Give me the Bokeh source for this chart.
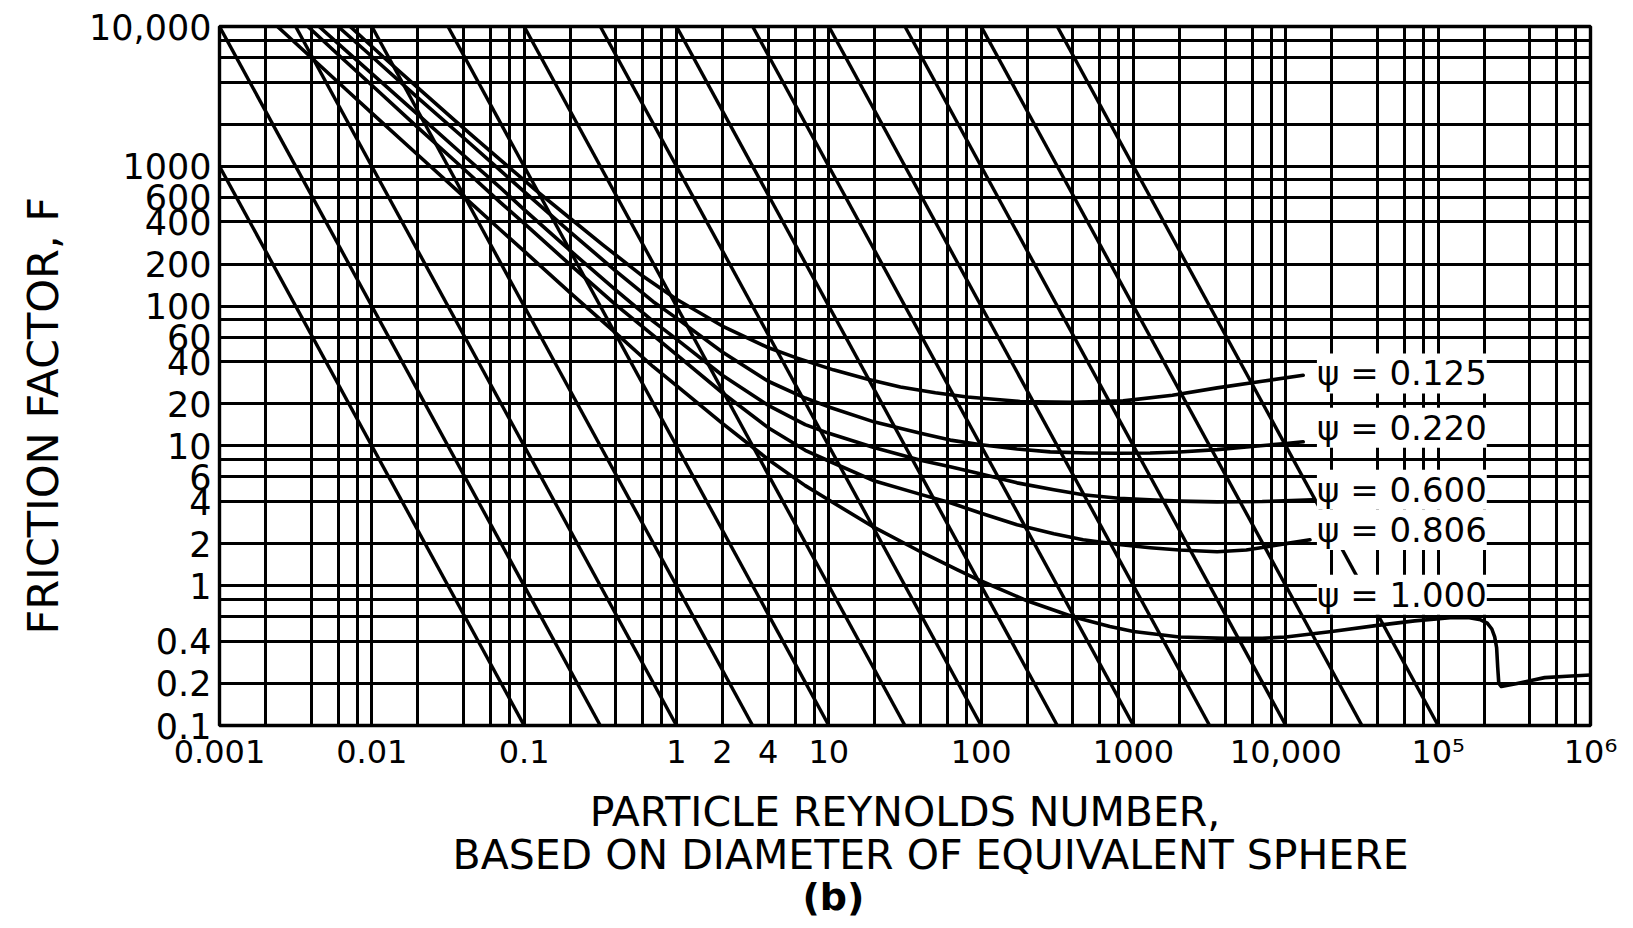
from bokeh.plotting import figure
from bokeh.models import Range1d, FixedTicker, CustomJSTickFormatter, Label, Title
from bokeh.embed import file_html
from bokeh.resources import INLINE

FONT = "DejaVu Sans"

# ---------------- tick labels ----------------
x_tick_values = [0.001, 0.01, 0.1, 1, 2, 4, 10, 100, 1000, 10000, 1e5, 1e6]
x_tick_labels = ["0.001", "0.01", "0.1", "1", "2", "4", "10", "100", "1000", "10,000", "10⁵", "10⁶"]
y_tick_values = [0.1, 0.2, 0.4, 1, 2, 4, 6, 10, 20, 40, 60, 100, 200, 400, 600, 1000, 10000]
y_tick_labels = ["0.1", "0.2", "0.4", "1", "2", "4", "6", "10", "20", "40", "60", "100", "200",
                 "400", "600", "1000", "10,000"]

# grid of the log paper: 1, 2, 4, 6, 8 in every decade
grid_mantissas = [1, 2, 4, 6, 8]
x_grid_decades = [-3, -2, -1, 0, 1, 2, 3, 4, 5]
y_grid_decades = [-1, 0, 1, 2, 3]

# ---------------- diagonal lines (constant F*Re^2) ----------------
diag_top_re = [0.001, 0.001, 0.00316, 0.01, 0.0316, 0.1, 0.316, 1, 3.16, 10, 31.6, 100, 316]
diag_top_f = [1000, 10000, 10000, 10000, 10000, 10000, 10000, 10000, 10000, 10000, 10000, 10000, 10000]
diag_bot_re = [0.1, 0.316, 1, 3.16, 10, 31.6, 100, 316, 1000, 3160, 10000, 31600, 100000]
diag_bot_f = [0.1, 0.1, 0.1, 0.1, 0.1, 0.1, 0.1, 0.1, 0.1, 0.1, 0.1, 0.1, 0.1]

# ---------------- sphericity curves ----------------
re_psi_0125 = [0.0072, 0.012, 0.02, 0.035, 0.05, 0.08, 0.12, 0.2, 0.33, 0.6, 1, 2, 3.9, 6, 10.7,
               18, 29.5, 50, 81, 180, 400, 855, 1800, 3540, 7000, 13000]
f_psi_0125 = [10000, 6000, 3650, 2130, 1520, 980, 670, 425, 273, 164, 112, 72, 51, 43, 35,
              30, 26.4, 24, 22.4, 20.8, 20.5, 21, 23, 26, 29, 32]

re_psi_0220 = [0.006, 0.01, 0.02, 0.04, 0.07, 0.1, 0.2, 0.4, 0.7, 1, 2, 4, 7, 10, 20, 40, 62.7,
               100, 172, 284, 500, 800, 1285, 2000, 3540, 6000, 10000, 13000]
f_psi_0220 = [10000, 6100, 3100, 1600, 930, 660, 340, 178, 108, 82, 47, 29, 22, 19, 14.8, 12.3,
              11.0, 10.2, 9.5, 9.06, 8.9, 8.85, 8.9, 9.05, 9.4, 9.9, 10.4, 10.7]

re_psi_0600 = [0.0045, 0.007, 0.01, 0.02, 0.04, 0.07, 0.1, 0.2, 0.4, 0.7, 1, 2, 4, 7, 10, 20, 40,
               62.7, 100, 172, 300, 467, 800, 1285, 2000, 3540, 7000, 15000]
f_psi_0600 = [10000, 6500, 4600, 2350, 1200, 700, 490, 250, 130, 78, 58, 32, 19.5, 14.2, 12.3,
              9.7, 7.9, 7.08, 6.3, 5.44, 4.85, 4.47, 4.22, 4.11, 4.03, 3.98, 4.0, 4.11]

re_psi_0806 = [0.0038, 0.006, 0.01, 0.02, 0.04, 0.07, 0.1, 0.2, 0.4, 0.7, 1, 2, 4, 7, 10, 20, 40,
               62.7, 100, 172, 300, 467, 800, 1285, 2000, 3540, 5500, 7530, 10000, 14400]
f_psi_0806 = [10000, 6300, 3800, 1900, 960, 550, 390, 198, 102, 62, 45, 24, 13.5, 9.3, 7.8, 5.6,
              4.5, 3.92, 3.3, 2.73, 2.35, 2.13, 1.97, 1.87, 1.8, 1.75, 1.8, 1.9, 2.0, 2.13]

re_psi_1000 = [0.0024, 0.004, 0.007, 0.01, 0.02, 0.04, 0.07, 0.1, 0.2, 0.4, 0.7, 1, 2, 4, 7, 10,
               20, 40, 70, 100, 200, 400, 700, 1000, 2000, 4000, 7000, 10000, 20000, 40000,
               70000, 120000, 160000, 190000, 210000, 225000, 235000, 242000, 246000, 250000,
               260000, 330000, 500000, 700000, 1000000]
f_psi_1000 = [10000, 6000, 3430, 2400, 1210, 610, 350, 247, 125, 64, 37, 27, 14.5, 8.0, 5.2, 4.1,
              2.6, 1.75, 1.3, 1.08, 0.78, 0.6, 0.51, 0.47, 0.43, 0.42, 0.42, 0.43, 0.47, 0.52,
              0.56, 0.59, 0.59, 0.57, 0.54, 0.49, 0.43, 0.36, 0.26, 0.20, 0.19, 0.20, 0.22,
              0.225, 0.23]

curve_labels = ["ψ = 0.125", "ψ = 0.220", "ψ = 0.600", "ψ = 0.806", "ψ = 1.000"]
label_re = [16000, 16000, 16000, 16000, 16000]
label_f = [33, 13.5, 4.85, 2.5, 0.86]

# ---------------- figure ----------------
W, H = 1625, 922
p = figure(width=W, height=H, x_axis_type="log", y_axis_type="log",
           x_range=Range1d(0.001, 1e6), y_range=Range1d(0.1, 1e4),
           output_backend="svg", toolbar_location=None, title=None,
           min_border_left=219, min_border_right=35, min_border_top=26, min_border_bottom=196)
p.background_fill_color = "white"
p.border_fill_color = "white"
p.outline_line_color = "black"
p.outline_line_width = 3.4

x_grid_values = [m * 10.0 ** d for d in x_grid_decades for m in grid_mantissas] + [1e6]
y_grid_values = [m * 10.0 ** d for d in y_grid_decades for m in grid_mantissas] + [1e4]
p.xgrid.ticker = FixedTicker(ticks=x_grid_values)
p.ygrid.ticker = FixedTicker(ticks=y_grid_values)
for g in (p.xgrid, p.ygrid):
    g.grid_line_color = "black"
    g.grid_line_width = 3.0
    g.grid_line_alpha = 1.0
    g.minor_grid_line_color = None

fmt_code = """
const i = tv.findIndex(t => Math.abs(Math.log10(t) - Math.log10(tick)) < 1e-6);
return i >= 0 ? tl[i] : "";
"""
p.xaxis.ticker = FixedTicker(ticks=x_tick_values)
p.xaxis.formatter = CustomJSTickFormatter(args=dict(tv=x_tick_values, tl=x_tick_labels), code=fmt_code)
p.yaxis.ticker = FixedTicker(ticks=y_tick_values)
p.yaxis.formatter = CustomJSTickFormatter(args=dict(tv=y_tick_values, tl=y_tick_labels), code=fmt_code)
for ax in (p.xaxis, p.yaxis):
    ax.axis_line_color = None
    ax.major_tick_line_color = None
    ax.minor_tick_line_color = None
    ax.major_tick_out = 0
    ax.major_tick_in = 0
    ax.major_label_text_font = FONT
    ax.major_label_text_color = "black"
p.xaxis.major_label_text_font_size = "32px"
p.yaxis.major_label_text_font_size = "35px"
p.xaxis.major_label_standoff = 7
p.yaxis.major_label_standoff = 8

# x-axis title (three lines)
p.xaxis.axis_label = "PARTICLE REYNOLDS NUMBER,"
p.xaxis.axis_label_text_font = FONT
p.xaxis.axis_label_text_font_size = "41px"
p.xaxis.axis_label_text_font_style = "normal"
p.xaxis.axis_label_text_color = "black"
p.xaxis.axis_label_standoff = 14

p.add_layout(Title(text="BASED ON DIAMETER OF EQUIVALENT SPHERE", align="left", offset=233,
                   vertical_align="middle", standoff=-18, text_font=FONT, text_font_size="41px",
                   text_font_style="normal", text_color="black"), "below")
p.add_layout(Title(text="(b)", align="left", offset=583, vertical_align="middle", standoff=6,
                   text_font=FONT, text_font_size="38px", text_font_style="bold",
                   text_color="black"), "below")

# y-axis title
p.add_layout(Title(text="FRICTION FACTOR, F", align="left", offset=91, vertical_align="top",
                   standoff=34, text_font=FONT, text_font_size="43px", text_font_style="normal",
                   text_color="black"), "left")

# diagonal lines
p.segment(x0=diag_top_re, y0=diag_top_f, x1=diag_bot_re, y1=diag_bot_f,
          line_color="black", line_width=3.4)

# curves
for xs, ys in [(re_psi_0125, f_psi_0125), (re_psi_0220, f_psi_0220), (re_psi_0600, f_psi_0600),
               (re_psi_0806, f_psi_0806), (re_psi_1000, f_psi_1000)]:
    p.line(xs, ys, line_color="black", line_width=3.6, line_join="round", line_cap="round")

# curve labels with white boxes
for t, lx, ly in zip(curve_labels, label_re, label_f):
    p.add_layout(Label(x=lx, y=ly, text=t, text_font=FONT, text_font_size="34px",
                       text_align="left", text_baseline="middle", text_color="black",
                       background_fill_color="white", background_fill_alpha=1.0))

open("out.html", "w").write(file_html(p, INLINE))
